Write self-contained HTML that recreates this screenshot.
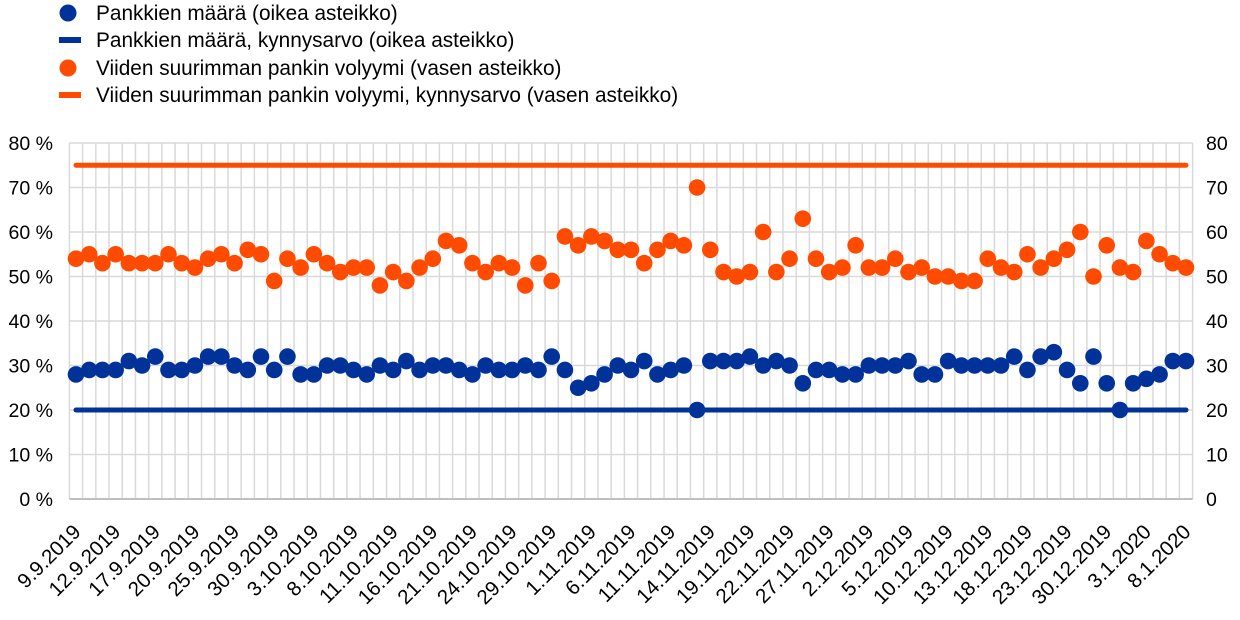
<!DOCTYPE html>
<html><head><meta charset="utf-8"><style>
html,body{margin:0;padding:0;background:#fff;}
svg{display:block;font-family:"Liberation Sans",Arial,sans-serif;}
</style></head><body>
<svg id="c" width="1240" height="620" viewBox="0 0 1240 620" xmlns="http://www.w3.org/2000/svg">
<g font-size="20.8" fill="#000">
<circle cx="68" cy="13" r="8.5" fill="#003299"/><text x="96" y="20">Pankkien määrä (oikea asteikko)</text>
<rect x="59" y="37" width="22" height="6" fill="#003299"/><text x="96" y="47">Pankkien määrä, kynnysarvo (oikea asteikko)</text>
<circle cx="68" cy="68" r="8.5" fill="#ff4b00"/><text x="96" y="75">Viiden suurimman pankin volyymi (vasen asteikko)</text>
<rect x="59" y="92" width="22" height="6" fill="#ff4b00"/><text x="96" y="102">Viiden suurimman pankin volyymi, kynnysarvo (vasen asteikko)</text>
</g>
<g id="grid"></g>
<g id="data"></g>
<g id="lab" font-size="19.5"></g>
<g id="dl" font-size="20.5"></g>
</svg>
<script>
var ns="http://www.w3.org/2000/svg";
function el(p,t,a,txt){var e=document.createElementNS(ns,t);for(var k in a)e.setAttribute(k,a[k]);if(txt!==undefined)e.textContent=txt;p.appendChild(e);return e;}
var x0=76,dx=1110/84,y0=499,py=4.45;
function X(i){return x0+i*dx;}function Y(v){return y0-v*py;}
var g=document.getElementById('grid'),d=document.getElementById('data'),l=document.getElementById('lab'),dl=document.getElementById('dl');
var L=X(-0.5),R=X(84.5);
for(var i=0;i<=85;i++){var x=X(i-0.5);el(g,'line',{x1:x,x2:x,y1:Y(80),y2:y0,stroke:'#d9d9d9','stroke-width':1.5});}
for(var v=10;v<=80;v+=10){el(g,'line',{x1:L,x2:R,y1:Y(v),y2:Y(v),stroke:'#d9d9d9','stroke-width':1.5});}
el(g,'line',{x1:L,x2:R,y1:y0,y2:y0,stroke:'#bfbfbf','stroke-width':2});
for(var v=0;v<=80;v+=10){el(l,'text',{x:53,y:Y(v)+7,'text-anchor':'end'},v+' %');el(l,'text',{x:1206,y:Y(v)+7},''+v);}
var o=[54,55,53,55,53,53,53,55,53,52,54,55,53,56,55,49,54,52,55,53,51,52,52,48,51,49,52,54,58,57,53,51,53,52,48,53,49,59,57,59,58,56,56,53,56,58,57,70,56,51,50,51,60,51,54,63,54,51,52,57,52,52,54,51,52,50,50,49,49,54,52,51,55,52,54,56,60,50,57,52,51,58,55,53,52];
var b=[28,29,29,29,31,30,32,29,29,30,32,32,30,29,32,29,32,28,28,30,30,29,28,30,29,31,29,30,30,29,28,30,29,29,30,29,32,29,25,26,28,30,29,31,28,29,30,20,31,31,31,32,30,31,30,26,29,29,28,28,30,30,30,31,28,28,31,30,30,30,30,32,29,32,33,29,26,32,26,20,26,27,28,31,31];
el(d,'line',{x1:X(0),x2:X(84),y1:Y(75),y2:Y(75),stroke:'#ff4b00','stroke-width':5,'stroke-linecap':'round'});
el(d,'line',{x1:X(0),x2:X(84),y1:Y(20),y2:Y(20),stroke:'#003299','stroke-width':5,'stroke-linecap':'round'});
for(var i=0;i<85;i++){el(d,'circle',{cx:X(i),cy:Y(o[i]),r:8.3,fill:'#ff4b00'});el(d,'circle',{cx:X(i),cy:Y(b[i]),r:8.3,fill:'#003299'});}
var dates=["9.9.2019","12.9.2019","17.9.2019","20.9.2019","25.9.2019","30.9.2019","3.10.2019","8.10.2019","11.10.2019","16.10.2019","21.10.2019","24.10.2019","29.10.2019","1.11.2019","6.11.2019","11.11.2019","14.11.2019","19.11.2019","22.11.2019","27.11.2019","2.12.2019","5.12.2019","10.12.2019","13.12.2019","18.12.2019","23.12.2019","30.12.2019","3.1.2020","8.1.2020"];
var idx=[0,3,6,9,12,15,18,21,24,27,30,33,36,39,42,45,48,51,54,57,60,63,66,69,72,75,78,81,84];
for(var k=0;k<dates.length;k++){var x=X(idx[k])+6,y=533;el(dl,'text',{x:x,y:y,'text-anchor':'end',transform:'rotate(-45 '+x+' '+y+')'},dates[k]);}
</script>
</body></html>
